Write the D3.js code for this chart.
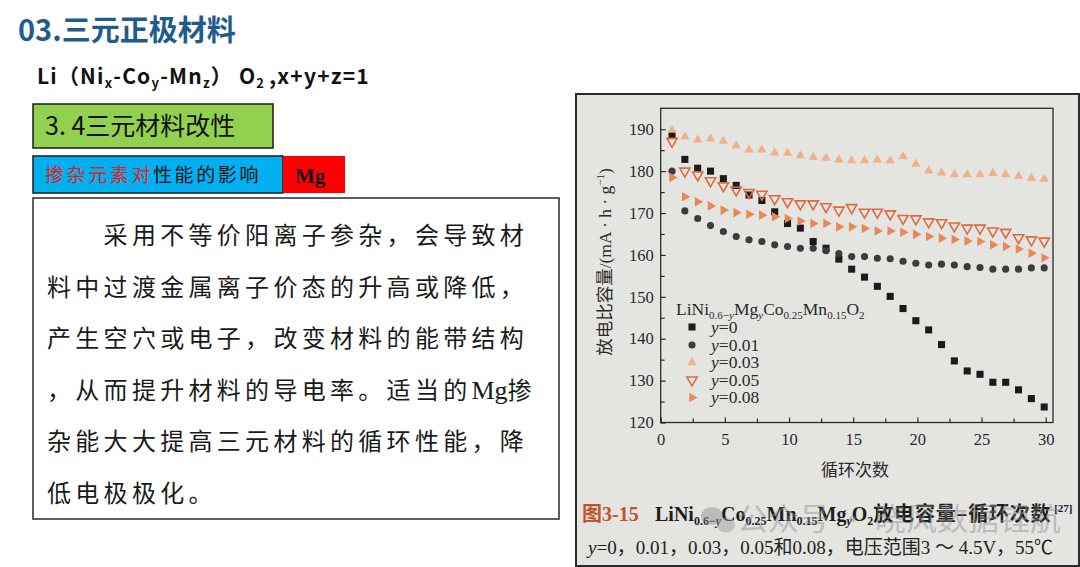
<!DOCTYPE html>
<html><head><meta charset="utf-8">
<script src="https://cdn.jsdelivr.net/npm/d3@7"></script>
<style>
html,body{margin:0;padding:0;background:#fff;}
svg{display:block;}
</style></head>
<body>
<svg id="c" width="1080" height="567"></svg>
<script>
// ---- data ----
const cycles = [1,2,3,4,5,6,7,8,9,10,11,12,13,14,15,16,17,18,19,20,21,22,23,24,25,26,27,28,29,30];
const capY0   = [188.6,182.8,180.7,180.0,178.2,176.6,174.3,173.0,170.3,167.5,166.4,163.2,161.6,159.0,156.6,154.7,152.5,150.1,147.2,144.3,142.1,138.6,134.7,132.3,131.5,129.6,129.6,127.8,125.7,123.7];
const capY001 = [180.0,170.5,168.7,167.0,165.6,164.4,163.6,163.2,162.4,162.0,161.6,161.6,161.0,160.3,159.6,159.6,159.2,159.1,158.5,158.0,157.6,157.8,157.6,157.2,157.0,156.6,156.6,156.6,156.9,156.9];
const capY003 = [189.8,188.2,187.5,187.7,187.2,186.1,185.1,185.1,184.4,184.3,183.7,183.3,183.1,182.7,182.5,182.5,182.7,182.5,183.5,181.7,180.1,179.6,179.2,179.2,179.2,179.5,179.2,178.8,178.3,178.1];
const capY005 = [187.1,180.0,179.1,177.7,176.5,175.5,174.9,174.5,173.4,172.7,172.2,172.2,171.5,170.7,171.3,170.2,170.2,169.8,168.7,168.6,167.9,167.7,166.9,166.4,166.4,165.7,165.4,164.1,163.6,163.3];
const capY008 = [178.5,173.9,172.7,171.7,170.7,170.1,169.7,169.5,169.1,168.7,168.1,167.5,167.5,166.7,166.7,166.3,165.7,165.7,165.4,164.9,164.4,164.0,163.7,163.3,163.2,162.4,162.0,161.4,160.4,159.3];
const seriesLabels = ["0","0.01","0.03","0.05","0.08"];
const xTickLabels = [0,5,10,15,20,25,30];
const xMinorTicks = [2.5,7.5,12.5,17.5,22.5,27.5];
const yTickLabels = [120,130,140,150,160,170,180,190];
const yMinorTicks = [125,135,145,155,165,175,185];
const bodyLines = [
  "\u3000\u3000采用不等价阳离子参杂，会导致材",
  "料中过渡金属离子价态的升高或降低，",
  "产生空穴或电子，改变材料的能带结构",
  "，从而提升材料的导电率。适当的Mg掺",
  "杂能大大提高三元材料的循环性能，降",
  "低电极极化。"
];

const svg = d3.select("#c");
const CJK = "'Noto Sans CJK SC','Noto Sans',sans-serif";
const SERIF = "'Liberation Serif','Noto Sans CJK SC',serif";

// ---- slide left side ----
svg.append("text").attr("x",18).attr("y",41)
  .attr("font-family",CJK).attr("font-weight",700).attr("font-size",29)
  .attr("fill","#1f5c8c").text("03.三元正极材料");

const li = svg.append("text").attr("x",37).attr("y",84)
  .attr("font-family",CJK).attr("font-weight",700).attr("font-size",21)
  .attr("letter-spacing",1.2).attr("fill","#111");
li.append("tspan").text("Li（Ni");
li.append("tspan").attr("font-size",13).attr("dy",4).text("x");
li.append("tspan").attr("dy",-4).text("-Co");
li.append("tspan").attr("font-size",13).attr("dy",4).text("y");
li.append("tspan").attr("dy",-4).text("-Mn");
li.append("tspan").attr("font-size",13).attr("dy",4).text("z");
li.append("tspan").attr("dy",-4).text("） O");
li.append("tspan").attr("font-size",13).attr("dy",4).text("2 ");
li.append("tspan").attr("dy",-4).text(",x+y+z=1");

svg.append("rect").attr("x",33).attr("y",104).attr("width",240).attr("height",44)
  .attr("fill","#92d050").attr("stroke","#1a1a1a").attr("stroke-width",1.5);
svg.append("text").attr("x",45).attr("y",135)
  .attr("font-family",CJK).attr("font-size",25).attr("fill","#111").text("3. 4三元材料改性");

svg.append("rect").attr("x",33).attr("y",156).attr("width",250).attr("height",37)
  .attr("fill","#00b0f0").attr("stroke","#1a1a1a").attr("stroke-width",1.5);
const dop = svg.append("text").attr("x",45).attr("y",182)
  .attr("font-family",CJK).attr("font-size",19).attr("letter-spacing",2.6);
dop.append("tspan").attr("fill","#e41e1e").text("掺杂元素对");
dop.append("tspan").attr("fill","#111").text("性能的影响");

svg.append("rect").attr("x",283).attr("y",156).attr("width",62).attr("height",37)
  .attr("fill","#ff0000");
svg.append("text").attr("x",295).attr("y",183)
  .attr("font-family","'Liberation Serif',serif").attr("font-weight",700).attr("font-size",21)
  .attr("fill","#111").text("Mg");

svg.append("rect").attr("x",33).attr("y",198).attr("width",526).attr("height",321)
  .attr("fill","#fff").attr("stroke","#2a2a2a").attr("stroke-width",1.5);
svg.append("g").selectAll("text").data(bodyLines).join("text")
  .attr("x",47).attr("y",(d,i)=>244+i*51.6)
  .attr("font-size",24).attr("letter-spacing",4.3).attr("fill","#1a1a1a")
  .each(function(d){
    const t=d3.select(this);
    const parts=d.split("Mg");
    if(parts.length>1){
      t.append("tspan").attr("font-family",CJK).text(parts[0]);
      t.append("tspan").attr("font-family","'Liberation Serif',serif").attr("font-size",26).attr("letter-spacing",0).text("Mg");
      t.append("tspan").attr("font-family",CJK).text(parts[1]);
    } else {
      t.attr("font-family",CJK).text(d);
    }
  });

// ---- photo of chart ----
svg.append("rect").attr("x",576).attr("y",94).attr("width",503).attr("height",472)
  .attr("fill","#e4e4e1").attr("stroke","#2b2b2b").attr("stroke-width",2);

const x = d3.scaleLinear().domain([0,30.57]).range([660.7,1053]);
const y = d3.scaleLinear().domain([120,195]).range([422.5,108.3]);

const axisCol="#2a2a2a";
svg.append("rect").attr("x",x(0)).attr("y",y(195)).attr("width",x(30.57)-x(0)).attr("height",y(120)-y(195))
  .attr("fill","none").attr("stroke",axisCol).attr("stroke-width",1.3);

const gx = svg.append("g").attr("transform",`translate(0,${y(120)})`)
  .call(d3.axisBottom(x).tickValues(xTickLabels).tickSize(-5).tickPadding(11));
const gxm = svg.append("g").attr("transform",`translate(0,${y(120)})`)
  .call(d3.axisBottom(x).tickValues(xMinorTicks).tickSize(-4).tickFormat(""));
const gy = svg.append("g").attr("transform",`translate(${x(0)},0)`)
  .call(d3.axisLeft(y).tickValues(yTickLabels).tickSize(-5).tickPadding(7));
const gym = svg.append("g").attr("transform",`translate(${x(0)},0)`)
  .call(d3.axisLeft(y).tickValues(yMinorTicks).tickSize(-4).tickFormat(""));
[gx,gxm,gy,gym].forEach(g=>{
  g.select(".domain").remove();
  g.selectAll("line").attr("stroke",axisCol).attr("stroke-width",1.2);
  g.selectAll("text").attr("font-family","'Liberation Serif',serif").attr("font-size",16.5).attr("fill","#2a2a2a");
});

const yt = svg.append("text").attr("transform","translate(611,262) rotate(-90)")
  .attr("text-anchor","middle").attr("font-family",SERIF).attr("font-size",17.5).attr("fill","#2a2a2a");
yt.append("tspan").attr("font-family",CJK).text("放电比容量");
yt.append("tspan").text("/(mA · h · g");
yt.append("tspan").attr("font-size",11).attr("dy",-7).text("−1");
yt.append("tspan").attr("dy",7).text(")");
svg.append("text").attr("x",855).attr("y",476).attr("text-anchor","middle")
  .attr("font-family",CJK).attr("font-size",17).attr("fill","#2a2a2a").text("循环次数");

const series = [
  {vals:capY0,   type:d3.symbolSquare,  size:50, rot:0,   fill:"#1b1b1b", stroke:"none"},
  {vals:capY001, type:d3.symbolCircle,  size:40, rot:0,   fill:"#3c3c3c", stroke:"none"},
  {vals:capY003, type:d3.symbolTriangle,size:38, rot:0,   fill:"#f0b08c", stroke:"none"},
  {vals:capY005, type:d3.symbolTriangle,size:46, rot:180, fill:"none",    stroke:"#df6a42"},
  {vals:capY008, type:d3.symbolTriangle,size:40, rot:90,  fill:"#e8875a", stroke:"none"}
];
series.forEach(s=>{
  const path = d3.symbol().type(s.type).size(s.size)();
  svg.append("g").selectAll("path").data(cycles.map((c,i)=>[c,s.vals[i]])).join("path")
    .attr("d",path)
    .attr("transform",d=>`translate(${x(d[0])-1.5},${y(d[1])}) rotate(${s.rot})`)
    .attr("fill",s.fill).attr("stroke",s.stroke).attr("stroke-width",1.6);
});

// legend
const lt = svg.append("text").attr("x",676).attr("y",315)
  .attr("font-family","'Liberation Serif',serif").attr("font-size",17.5).attr("fill","#2a2a2a");
lt.append("tspan").text("LiNi");
lt.append("tspan").attr("font-size",11).attr("dy",4).text("0.6−");
lt.append("tspan").attr("font-size",11).attr("font-style","italic").text("y");
lt.append("tspan").attr("dy",-4).text("Mg");
lt.append("tspan").attr("font-size",11).attr("font-style","italic").attr("dy",4).text("y");
lt.append("tspan").attr("dy",-4).text("Co");
lt.append("tspan").attr("font-size",11).attr("dy",4).text("0.25");
lt.append("tspan").attr("dy",-4).text("Mn");
lt.append("tspan").attr("font-size",11).attr("dy",4).text("0.15");
lt.append("tspan").attr("dy",-4).text("O");
lt.append("tspan").attr("font-size",11).attr("dy",4).text("2");

const legY = [327,345,362.5,380,397.5];
series.forEach((s,i)=>{
  svg.append("path").attr("d",d3.symbol().type(s.type).size(s.size)())
    .attr("transform",`translate(692,${legY[i]}) rotate(${s.rot})`)
    .attr("fill",s.fill).attr("stroke",s.stroke).attr("stroke-width",1.6);
  const t = svg.append("text").attr("x",711).attr("y",legY[i]+5.5)
    .attr("font-family","'Liberation Serif',serif").attr("font-size",17.5).attr("fill","#2a2a2a");
  t.append("tspan").attr("font-style","italic").text("y");
  t.append("tspan").text("="+seriesLabels[i]);
});

// caption
svg.append("text").attr("x",582).attr("y",521)
  .attr("font-family",SERIF).attr("font-weight",700).attr("font-size",20).attr("fill","#c2532f")
  .text("图3-15");
const cap = svg.append("text").attr("x",655).attr("y",521)
  .attr("font-family",SERIF).attr("font-weight",700).attr("font-size",20).attr("fill","#1e1e1e");
cap.append("tspan").text("LiNi");
cap.append("tspan").attr("font-size",12).attr("dy",4).text("0.6−");
cap.append("tspan").attr("font-size",12).attr("font-style","italic").text("y");
cap.append("tspan").attr("dy",-4).text("Co");
cap.append("tspan").attr("font-size",12).attr("dy",4).text("0.25");
cap.append("tspan").attr("dy",-4).text("Mn");
cap.append("tspan").attr("font-size",12).attr("dy",4).text("0.15");
cap.append("tspan").attr("dy",-4).text("Mg");
cap.append("tspan").attr("font-size",12).attr("font-style","italic").attr("dy",4).text("y");
cap.append("tspan").attr("dy",-4).text("O");
cap.append("tspan").attr("font-size",12).attr("dy",4).text("2");
cap.append("tspan").attr("dy",-4).attr("font-family",CJK).attr("letter-spacing",0.8).text("放电容量–循环次数");
cap.append("tspan").attr("font-size",11).attr("dy",-9).text(" [27]");

const cap2 = svg.append("text").attr("x",588).attr("y",554)
  .attr("font-family",SERIF).attr("font-size",19).attr("fill","#222");
cap2.append("tspan").attr("font-style","italic").text("y");
cap2.append("tspan").text("=0，0.01，0.03，0.05和0.08，电压范围3 ～ 4.5V，55℃");

// watermark
const wm = svg.append("g").attr("opacity",0.45);
wm.append("ellipse").attr("cx",712).attr("cy",516).attr("rx",11).attr("ry",9).attr("fill","#8a8a8a");
wm.append("ellipse").attr("cx",726).attr("cy",525).attr("rx",9).attr("ry",7.5).attr("fill","#9a9a9a");
wm.append("text").attr("x",737).attr("y",530).attr("font-family",CJK).attr("font-size",31)
  .attr("fill","#8c8c8c").text("公众号 · 晓风数据锂航");
</script>
</body></html>
